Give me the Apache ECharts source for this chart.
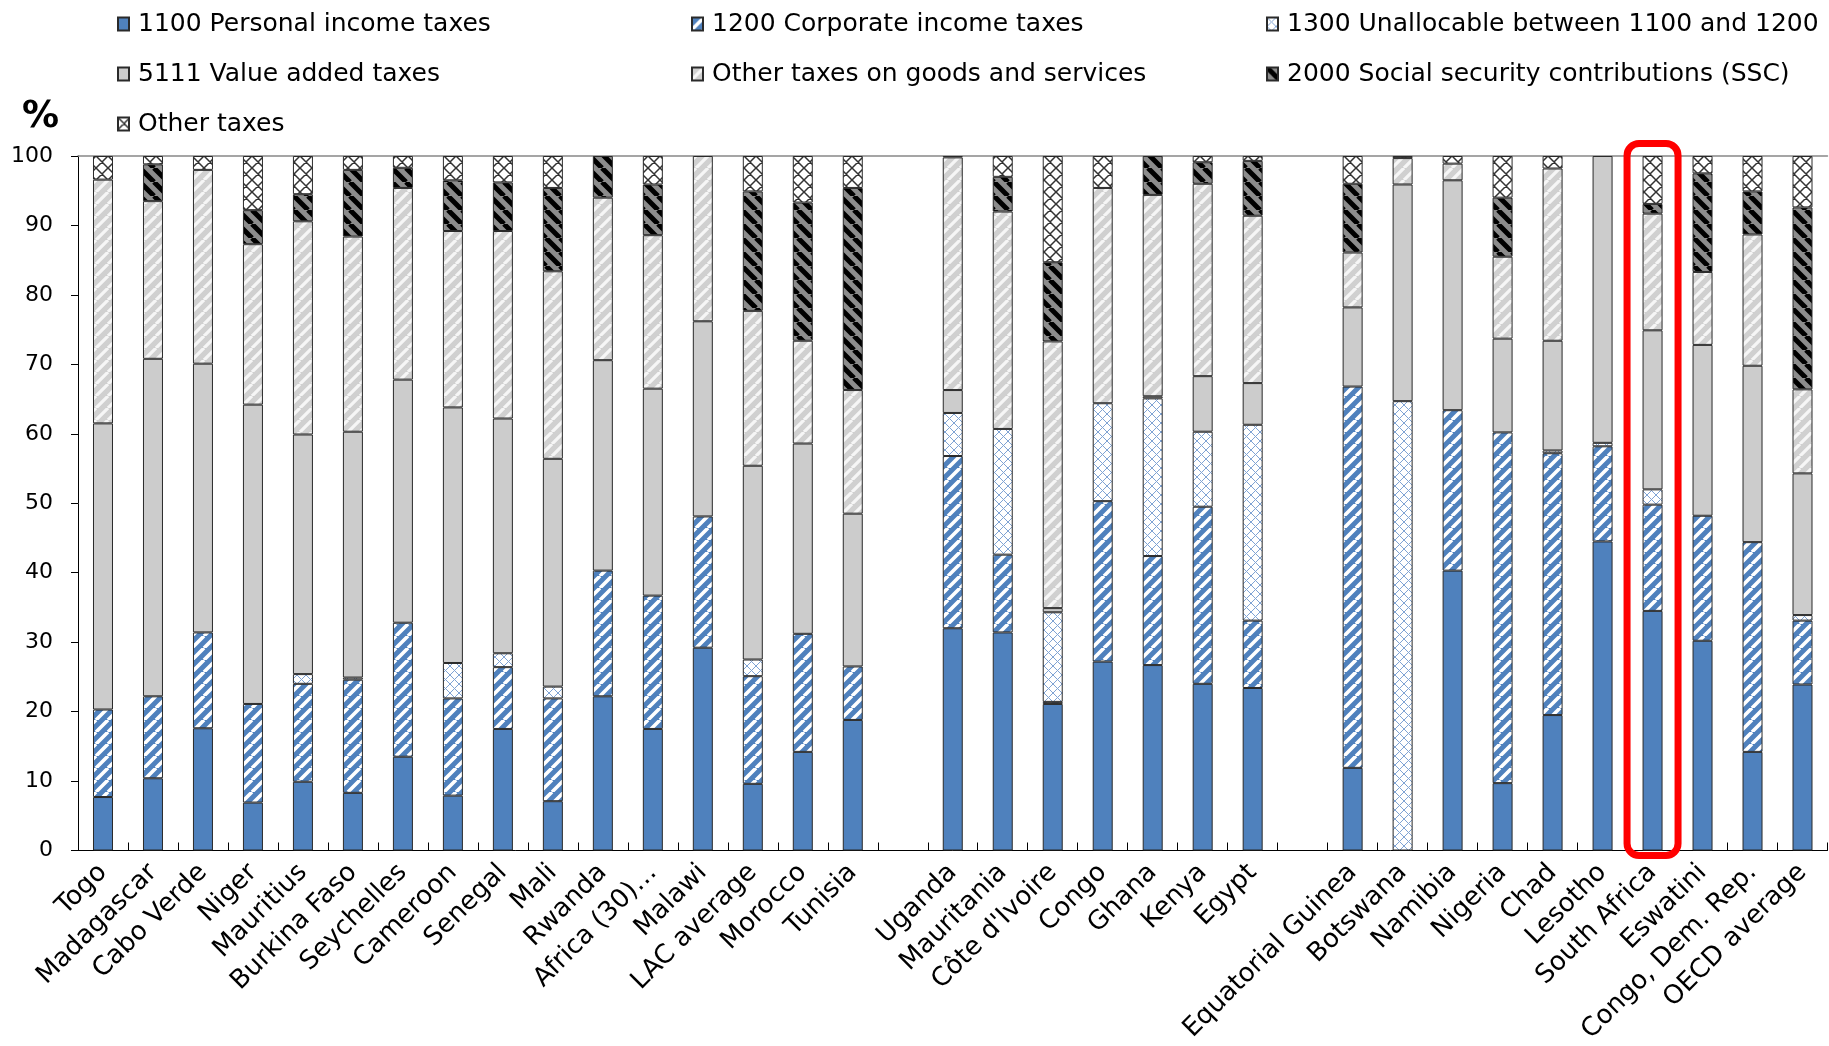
<!DOCTYPE html>
<html>
<head>
<meta charset="utf-8">
<script src="https://cdn.jsdelivr.net/npm/echarts@6/dist/echarts.min.js"></script>
<style>
  html, body { margin: 0; padding: 0; background: #fff; }
  #chart { width: 1829px; height: 1046px; }
</style>
</head>
<body>
<div id="chart"></div>
<script>
// Tax structure: share of each tax category in total tax revenue (%)
const categories = [
  'Togo', 'Madagascar', 'Cabo Verde', 'Niger', 'Mauritius', 'Burkina Faso', 'Seychelles',
  'Cameroon', 'Senegal', 'Mali', 'Rwanda', 'Africa (30)…', 'Malawi', 'LAC average',
  'Morocco', 'Tunisia', '',
  'Uganda', 'Mauritania', "Côte d'Ivoire", 'Congo', 'Ghana', 'Kenya', 'Egypt', ' ',
  'Equatorial Guinea', 'Botswana', 'Namibia', 'Nigeria', 'Chad', 'Lesotho',
  'South Africa', 'Eswatini', 'Congo, Dem. Rep.', 'OECD average'
];

const seriesNames = [
  '1100 Personal income taxes',
  '1200 Corporate income taxes',
  '1300 Unallocable between 1100 and 1200',
  '5111 Value added taxes',
  'Other taxes on goods and services',
  '2000 Social security contributions (SSC)',
  'Other taxes'
];

// one value per category; null marks the spacer columns between groups
const personalIncome = [7.7, 10.4, 17.6, 6.9, 9.9, 8.3, 13.5, 7.9, 17.5, 7.1, 22.2, 17.5, 29.2, 9.6, 14.2, 18.8, null,
  32.0, 31.4, 21.1, 27.2, 26.7, 24.0, 23.4, null,
  11.9, 0, 40.3, 9.7, 19.5, 44.5, 34.5, 30.2, 14.2, 23.9];
const corporateIncome = [12.6, 11.8, 13.8, 14.2, 14.1, 16.3, 19.3, 14.0, 8.9, 14.8, 18.1, 19.2, 18.9, 15.5, 17.0, 7.7, null,
  24.8, 11.2, 0.3, 23.1, 15.7, 25.5, 9.7, null,
  54.9, 0, 23.1, 50.5, 37.7, 13.7, 15.3, 18.0, 30.2, 9.2];
const unallocable = [0, 0, 0, 0, 1.4, 0.3, 0, 5.1, 2.0, 1.7, 0, 0, 0, 2.4, 0, 0, null,
  6.2, 18.1, 12.9, 14.1, 22.7, 10.8, 28.2, null,
  0, 64.7, 0, 0, 0.4, 0.5, 2.2, 0, 0, 0.8];
const valueAdded = [41.2, 48.6, 38.7, 43.1, 34.5, 35.4, 35.0, 36.8, 33.8, 32.8, 30.3, 29.8, 28.1, 27.9, 27.4, 22.0, null,
  3.3, 0, 0.6, 0, 0.3, 8.0, 6.0, null,
  11.4, 31.2, 33.1, 13.5, 15.8, 41.3, 22.9, 24.6, 25.4, 20.4];
const otherGoods = [35.1, 22.7, 27.9, 23.1, 30.7, 28.1, 27.6, 25.4, 27.0, 27.0, 23.4, 22.1, 23.8, 22.3, 14.8, 17.8, null,
  33.5, 31.3, 38.4, 31.0, 29.0, 27.7, 24.1, null,
  7.9, 3.8, 2.4, 11.8, 24.8, 0, 16.8, 10.5, 18.9, 12.1];
const socialSecurity = [0, 5.3, 0, 4.9, 3.9, 9.6, 2.9, 7.3, 7.0, 12.0, 6.0, 7.3, 0, 17.2, 19.9, 29.1, null,
  0, 5.0, 11.4, 0, 5.6, 3.1, 7.9, null,
  9.9, 0, 0, 8.5, 0, 0, 1.4, 14.2, 6.2, 26.2];
const otherTaxes = [3.4, 1.2, 2.0, 7.8, 5.5, 2.0, 1.7, 3.5, 3.8, 4.6, 0, 4.1, 0, 5.1, 6.7, 4.6, null,
  0.2, 3.0, 15.3, 4.6, 0, 0.9, 0.7, null,
  4.0, 0.3, 1.1, 6.0, 1.8, 0, 6.9, 2.5, 5.1, 7.4];

const yTicks = { min: 0, max: 100, step: 10 };
const highlighted = 'South Africa';

const FONT = 'DejaVu Sans';

// ---- fill patterns ----
function tile(size, bg) {
  const c = document.createElement('canvas');
  c.width = c.height = size;
  const g = c.getContext('2d');
  g.fillStyle = bg;
  g.fillRect(0, 0, size, size);
  return [c, g];
}
function stripes(size, bg, fg, lw, down) {
  const [c, g] = tile(size, bg);
  g.strokeStyle = fg;
  g.lineWidth = lw;
  g.beginPath();
  for (const o of [-size, 0, size]) {
    if (down) { g.moveTo(o, 0); g.lineTo(o + size, size); }
    else { g.moveTo(o, size); g.lineTo(o + size, 0); }
  }
  g.stroke();
  return { image: c, repeat: 'repeat' };
}
function lattice(size, bg, fg, lw) {
  const [c, g] = tile(size, bg);
  g.strokeStyle = fg;
  g.lineWidth = lw;
  g.beginPath();
  for (const o of [-size, 0, size]) {
    g.moveTo(o, 0); g.lineTo(o + size, size);
    g.moveTo(o, size); g.lineTo(o + size, 0);
  }
  g.stroke();
  return { image: c, repeat: 'repeat' };
}

const fills = [
  '#4F81BD',
  stripes(12, '#4F81BD', '#FFFFFF', 3.6, false),
  lattice(9, '#FFFFFF', '#7FA3D4', 1),
  '#CCCCCC',
  stripes(12, '#D0D0D0', '#F6F6F6', 3.2, false),
  stripes(14, '#8C8C8C', '#000000', 5, true),
  lattice(12, '#FFFFFF', '#333333', 1.5)
];

const values = [personalIncome, corporateIncome, unallocable, valueAdded, otherGoods, socialSecurity, otherTaxes];

const series = seriesNames.map((name, i) => ({
  name,
  type: 'bar',
  stack: 'total',
  barWidth: 20,
  xAxisIndex: 0,
  data: values[i].map(v => (v === null || v === 0) ? '-' : v),
  itemStyle: { color: fills[i], borderColor: '#2a2a2a', borderWidth: 1 },
  emphasis: { disabled: true },
  animation: false
}));

const legendBase = {
  orient: 'vertical',
  top: 9,
  padding: 0,
  itemGap: 20,
  itemWidth: 11,
  itemHeight: 13,
  icon: 'rect',
  selectedMode: false,
  textStyle: { fontFamily: FONT, fontSize: 25, color: '#000', lineHeight: 30, padding: [0, 0, 0, 4] }
};

const chart = echarts.init(document.getElementById('chart'), null, { renderer: 'canvas' });
chart.setOption({
  animation: false,
  grid: { left: 78, right: 1.5, top: 156, bottom: 194, containLabel: false },
  legend: [
    Object.assign({}, legendBase, { left: 117, data: [seriesNames[0], seriesNames[3], seriesNames[6]] }),
    Object.assign({}, legendBase, { left: 691, data: [seriesNames[1], seriesNames[4]] }),
    Object.assign({}, legendBase, { left: 1266, data: [seriesNames[2], seriesNames[5]] })
  ],
  xAxis: [
    {
      type: 'category',
      data: categories,
      position: 'bottom',
      axisLine: { lineStyle: { color: '#000', width: 1 } },
      axisTick: { show: true, inside: true, length: 8, lineStyle: { color: '#000' } },
      axisLabel: { rotate: 45, interval: 0, fontFamily: FONT, fontSize: 26, color: '#000', margin: 18 }
    },
    {
      type: 'category',
      data: categories,
      position: 'top',
      axisLine: { lineStyle: { color: '#888', width: 1.5 } },
      axisTick: { show: false },
      axisLabel: { show: false }
    }
  ],
  yAxis: {
    type: 'value',
    min: yTicks.min,
    max: yTicks.max,
    interval: yTicks.step,
    axisLine: { show: true, lineStyle: { color: '#000', width: 1 } },
    axisTick: { show: true, length: 7, lineStyle: { color: '#000' } },
    splitLine: { show: false },
    axisLabel: { fontFamily: FONT, fontSize: 22, color: '#000', margin: 25 }
  },
  series
});

// unit label and the highlight frame around one country, placed via the axes
const cx = chart.convertToPixel({ xAxisIndex: 0 }, highlighted);
const yTop = chart.convertToPixel({ yAxisIndex: 0 }, yTicks.max);
const yBot = chart.convertToPixel({ yAxisIndex: 0 }, yTicks.min);
chart.setOption({
  graphic: [
    {
      type: 'text', left: 22, top: 99,
      style: { text: '%', font: 'bold 37px "DejaVu Sans"', fill: '#000' }
    },
    {
      type: 'rect', z: 100,
      shape: { x: cx - 25.5, y: yTop - 12.5, width: 51, height: yBot - yTop + 17.5, r: 12 },
      style: { fill: 'none', stroke: '#FF0000', lineWidth: 7 }
    }
  ]
});
</script>
</body>
</html>
